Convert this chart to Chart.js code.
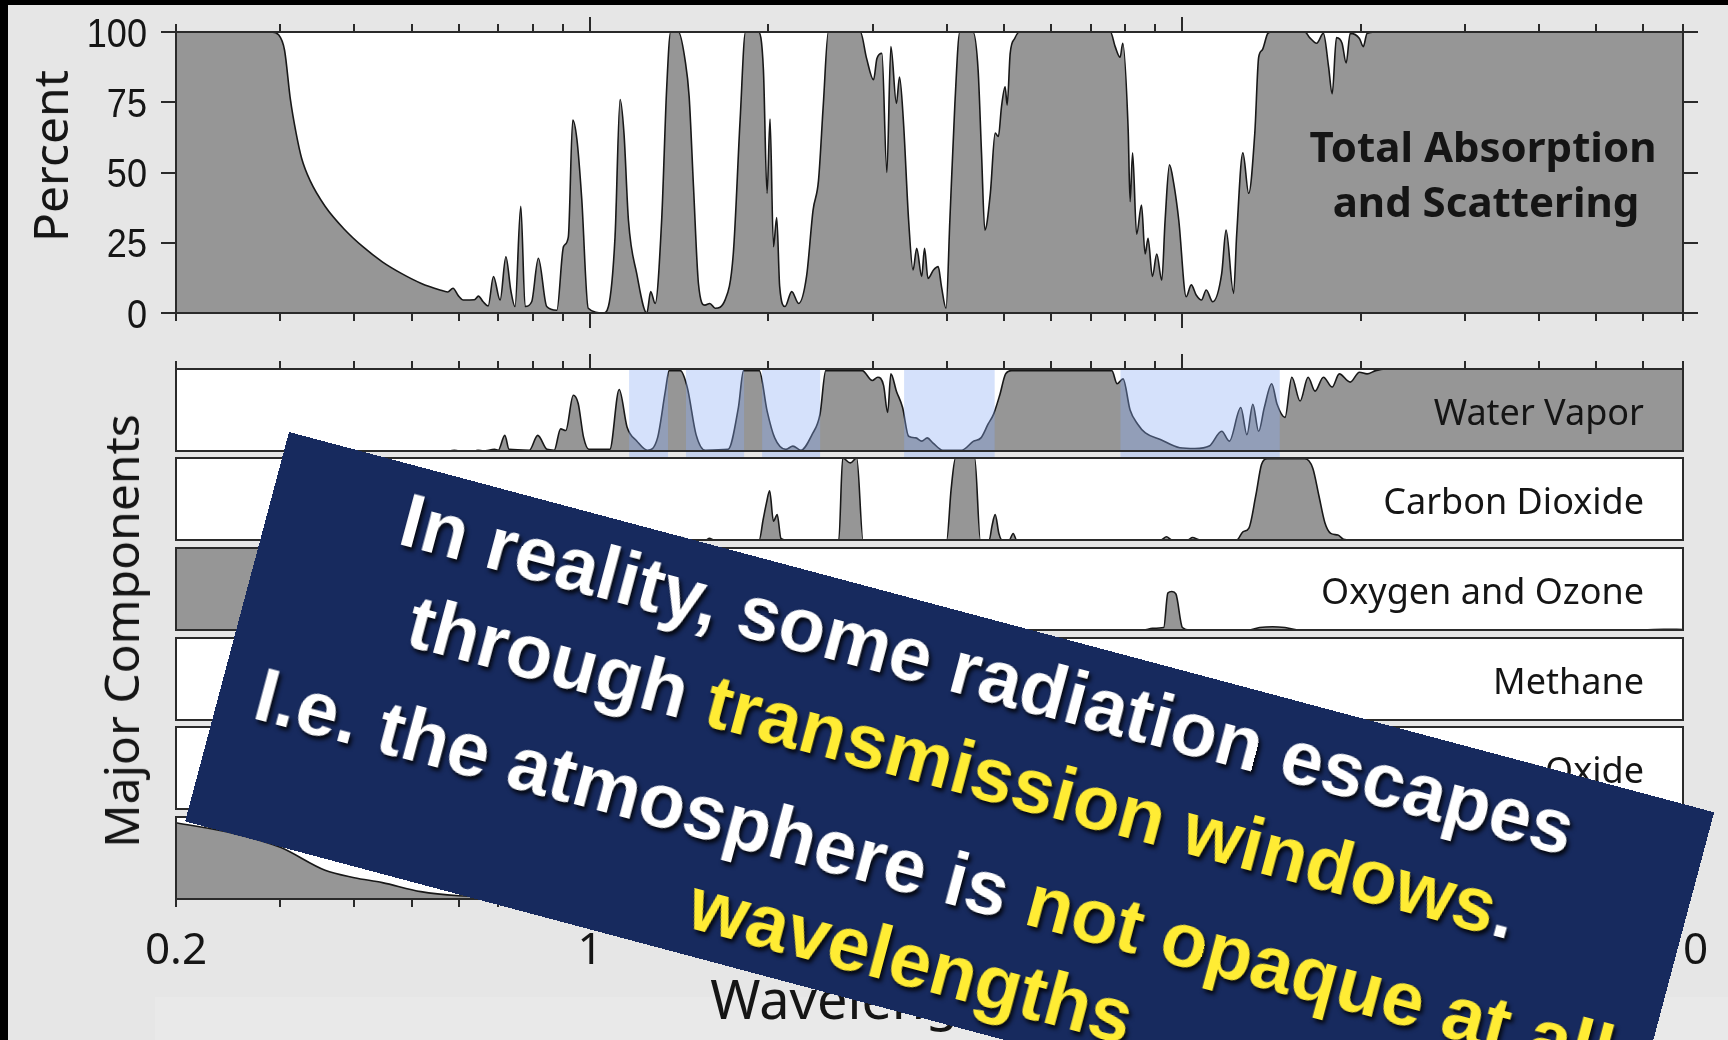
<!DOCTYPE html>
<html>
<head>
<meta charset="utf-8">
<title>Atmospheric absorption and scattering</title>
<script src="https://cdn.jsdelivr.net/npm/chart.js@4.4.1/dist/chart.umd.min.js"></script>
<style>
  html, body { margin: 0; padding: 0; width: 1728px; height: 1040px; overflow: hidden; background: #000; }
  #slide { position: absolute; left: 8px; top: 5px; width: 1720px; height: 1035px; background: #e6e6e6; }
  #band { position: absolute; left: 155px; top: 997px; width: 1573px; height: 43px; background: #e9e9e9; }
  canvas { position: absolute; left: 0; z-index: 1; }
  .lbl { position: absolute; white-space: nowrap; color: #151515; font-family: "Noto Sans", "Open Sans", sans-serif; line-height: 1; z-index: 2; }
  .rot { transform: translate(-50%, -50%) rotate(-90deg); }
  #note { position: absolute; left: 289px; top: 432px; width: 1475px; height: 403px; background: #172a5e;
          transform-origin: 0 0; transform: rotate(14.94deg); z-index: 10; }
  #note .ln { position: absolute; left: 0; width: 100%; text-align: center; white-space: nowrap;
              font: bold 76px "Liberation Sans", Arial, sans-serif; line-height: 96px; color: #fff;
              text-shadow: 3px 3px 4px rgba(0,0,0,0.85); }
  #note .y { color: #ffec34; }
</style>
</head>
<body>
<div id="slide"></div>
<div id="band"></div>

<!-- axis titles and panel labels -->
<div class="lbl rot" style="left:50px; top:156px; font-size:48px;">Percent</div>
<div class="lbl rot" style="left:121px; top:631px; font-size:48px;">Major Components</div>
<div class="lbl" style="left:1233px; width:500px; text-align:center; top:125px; font-size:42px; font-weight:bold;">Total Absorption</div>
<div class="lbl" style="left:1236px; width:500px; text-align:center; top:180px; font-size:42px; font-weight:bold;">and Scattering</div>
<div id="compLabels"></div>
<div class="lbl" style="left:676px; width:500px; text-align:center; top:971px; font-size:54px;">Wavelength (µm)</div>

<div id="note">
  <div class="ln" style="top:6px;">In reality, some radiation escapes</div>
  <div class="ln" style="top:102px;">through <span class="y">transmission windows</span>.</div>
  <div class="ln" style="top:212px;">I.e. the atmosphere is <span class="y">not opaque at all</span></div>
  <div class="ln" style="top:302px;"><span class="y">wavelengths</span></div>
</div>

<script>
// ---- axis ticks ----
const xTickValues = [0.2, 0.3, 0.4, 0.5, 0.6, 0.7, 0.8, 0.9, 1, 2, 3, 4, 5, 6, 7, 8, 9, 10, 20, 30, 40, 50, 60, 70];
const xMajorTicks = [1, 10];
const xLabelValues = [0.2, 1, 10, 70];
const xLabelText = ['0.2', '1', '10', '70'];
const yTickValues = [0, 25, 50, 75, 100];

// ---- total absorption and scattering (percent) ----
const totalWl = [0.2, 0.29, 0.298, 0.305, 0.312, 0.319, 0.326, 0.337, 0.357, 0.384, 0.414, 0.446, 0.481, 0.518, 0.558,
  0.575, 0.587, 0.6, 0.611, 0.638, 0.648, 0.66, 0.673, 0.687, 0.705, 0.721, 0.735, 0.747, 0.764, 0.777, 0.797, 0.818,
  0.845, 0.879, 0.902, 0.919, 0.935, 0.95, 0.968, 0.993, 1.053, 1.074, 1.102, 1.124, 1.141, 1.161, 1.199, 1.247,
  1.266, 1.288, 1.321, 1.347, 1.368, 1.41, 1.447, 1.47, 1.495, 1.524, 1.563, 1.593, 1.626, 1.69, 1.745, 1.792, 1.83,
  1.924, 1.962, 1.99, 2.013, 2.04, 2.066, 2.09, 2.134, 2.19, 2.25, 2.32, 2.38, 2.43, 2.477, 2.525, 2.86, 2.93, 3.01,
  3.05, 3.11, 3.17, 3.22, 3.29, 3.33, 3.38, 3.45, 3.51, 3.56, 3.63, 3.67, 3.72, 3.8, 3.87, 3.92, 3.99, 4.05, 4.13,
  4.21, 4.43, 4.52, 4.58, 4.64, 4.74, 4.83, 4.89, 4.95, 5.02, 5.06, 5.12, 5.21, 5.31, 7.56, 7.7, 7.85, 7.93, 8.1,
  8.16, 8.24, 8.37, 8.53, 8.65, 8.75, 8.9, 9.05, 9.23, 9.35, 9.51, 9.67, 9.86, 10.15, 10.35, 10.55, 10.77, 10.97,
  11.25, 11.65, 11.85, 12.2, 12.35, 12.65, 12.94, 13.25, 13.45, 13.64, 13.94, 14.15, 16.1, 16.4, 16.85, 17.3, 17.65,
  17.9, 18.2, 18.6, 18.9, 19.2, 19.9, 20.2, 20.5, 21.5, 70];
const totalPct = [100, 100, 99, 93.5, 76, 64, 55, 47, 38, 30, 23.5, 18.2, 14, 10.6, 8.2,
  7.5, 8.8, 6, 4.6, 4.7, 6, 4, 2.5, 13, 4.6, 20, 8, 2.3, 38, 2.3, 4, 19.5,
  2.3, 1, 23.6, 27, 68.7, 62, 41, 1.7, 0, 2.3, 27, 76, 64, 33, 14, 0,
  7.6, 3.4, 33, 80, 100, 100, 90, 77, 45, 10.5, 2.8, 3.4, 1.7, 4.6, 21, 68.7, 100,
  100, 86.5, 42.6, 69, 23.6, 34, 9.4, 2.3, 7.6, 3.4, 13, 36.7, 47, 74.6, 100, 100, 90.6, 83,
  90.6, 92.4, 50, 94.8, 74.6, 84, 68.7, 33, 15.3, 23, 13, 23, 12.3, 15.3, 16.5, 9.4, 1.7, 33, 74.6,
  100, 100, 86.5, 57, 29.5, 42.6, 64, 62.8, 73.4, 80.5, 74, 92.4, 97.7, 100, 100, 94.8, 91, 96, 65,
  39.6, 57, 28, 38.4, 21, 26.6, 13, 21, 11.7, 33, 52.7, 46, 33, 5.8, 10, 6.4, 4.6, 8.2,
  4, 14, 29.5, 7, 28, 57, 42.6, 64, 91, 93.6, 99.5, 100, 100, 98, 96, 99.5, 87.7,
  78, 98, 96, 89, 99.5, 97.7, 94.8, 99.5, 100, 100];

// ---- water vapor ----
const waterWl = [0.2, 0.58, 0.59, 0.6, 0.64, 0.647, 0.66, 0.69, 0.7, 0.718, 0.73, 0.79, 0.816, 0.846, 0.87, 0.892,
  0.91, 0.937, 0.955, 0.975, 0.996, 1.08, 1.12, 1.155, 1.2, 1.25, 1.3, 1.34, 1.36, 1.42, 1.46, 1.51, 1.565, 1.71,
  1.78, 1.816, 1.93, 1.99, 2.05, 2.14, 2.2, 2.27, 2.37, 2.445, 2.5, 2.88, 2.995, 3.06, 3.13, 3.18, 3.22, 3.29, 3.37,
  3.45, 3.55, 3.63, 3.71, 3.79, 3.94, 4.24, 4.44, 4.57, 4.7, 4.8, 4.92, 5.03, 5.15, 7.6, 7.76, 7.94, 8.16, 8.4,
  8.66, 9.18, 9.9, 10.5, 11.1, 11.65, 12.0, 12.55, 12.85, 13.15, 13.45, 13.75, 14.15, 14.45, 14.9, 15.3, 15.8,
  16.3, 16.75, 17.3, 17.9, 18.4, 19.2, 19.9, 20.5, 21.2, 22, 70];
const waterPct = [0, 0, 1, 0, 0, 1, 0, 2, 1, 19, 2, 1, 19, 2, 1, 27,
  25, 68, 58, 17, 2, 2, 75, 29, 12, 1, 16, 73, 98, 98, 77, 20, 1, 2,
  53, 98, 98, 49, 16, 2, 6, 1, 20, 45, 98, 98, 86, 90, 80, 47, 94, 73, 53,
  18, 16, 12, 16, 10, 1, 1, 12, 16, 33, 45, 69, 94, 98, 98, 82, 88, 50, 33,
  22, 14, 4, 3, 6, 24, 12, 53, 20, 57, 24, 53, 82, 57, 41, 90, 61,
  90, 73, 90, 78, 94, 84, 96, 94, 98, 100, 100];

// ---- carbon dioxide ----
const co2Wl = [0.2, 1.41, 1.43, 1.46, 1.57, 1.59, 1.62, 1.93, 1.96, 1.985, 2.01, 2.04, 2.07, 2.1, 2.14, 2.63, 2.67,
  2.75, 2.82, 2.89, 4.0, 4.07, 4.14, 4.46, 4.56, 4.72, 4.77, 4.83, 4.9, 4.96, 5.1, 5.18, 5.25, 9.2, 9.4, 9.6, 10.2,
  10.4, 10.7, 12.35, 12.65, 12.95, 13.3, 13.6, 13.9, 16.1, 16.6, 17.0, 17.4, 17.8, 18.3, 18.7, 19.2, 70];
const co2Pct = [0, 0, 3, 0, 0, 2, 0, 0, 25, 45, 60, 23, 31, 2, 0, 0, 100,
  94, 100, 0, 0, 62, 100, 100, 0, 0, 17, 31, 8, 0, 0, 8, 0, 0, 4, 0, 0,
  3, 0, 0, 10, 14.6, 54, 92, 99, 99, 87.5, 54, 21, 8, 6, 1, 0, 0];

// ---- oxygen and ozone ----
const oxyWl = [0.2, 0.29, 0.3, 0.31, 0.32, 0.33, 0.35, 0.45, 0.55, 0.6, 0.65, 0.68, 0.687, 0.695, 0.755, 0.762,
  0.77, 1.26, 1.27, 1.28, 4.6, 4.75, 4.9, 8.6, 8.9, 9.3, 9.45, 9.6, 9.75, 10.0, 10.3, 12.9, 13.5, 14.2, 14.9, 15.8,
  60, 65, 70];
const oxyPct = [100, 100, 90, 60, 25, 8, 2, 0.5, 2, 3, 2, 0.5, 10, 0.5, 0.5, 35,
  0.5, 0, 3, 0, 0, 3, 0, 0, 2, 3, 45, 47, 44, 3, 0, 0, 3, 4, 3, 0,
  0, 1, 0.5];

// ---- methane ----
const ch4Wl = [0.2, 1.64, 1.67, 1.7, 2.2, 2.3, 2.4, 3.2, 3.28, 3.31, 3.4, 3.5, 7.3, 7.5, 7.7, 7.9, 8.1, 70];
const ch4Pct = [0, 0, 8, 0, 0, 12, 3, 0, 30, 45, 20, 0, 0, 40, 70, 35, 0, 0];

// ---- nitrous oxide ----
const n2oWl = [0.2, 2.85, 2.9, 2.95, 3.85, 3.9, 4.0, 4.45, 4.5, 4.6, 4.7, 7.6, 7.8, 8.0, 16.5, 17.0, 17.5, 70];
const n2oPct = [0, 0, 5, 0, 0, 10, 0, 0, 80, 20, 0, 0, 40, 0, 0, 15, 0, 0];

// ---- Rayleigh scattering ----
const rayWl = [0.2, 0.25, 0.3, 0.357, 0.4, 0.446, 0.518, 0.6, 0.7, 0.8, 1.0, 1.5, 2.5, 70];
const rayPct = [93, 80, 63, 35, 26, 20, 9, 4, 2.5, 1.5, 0.8, 0.2, 0, 0];

// ---- transmission windows (µm) ----
const windowStart = [1.164, 1.452, 1.952, 3.39, 7.86];
const windowEnd = [1.354, 1.82, 2.446, 4.82, 14.6];

const componentNames = ['Water Vapor', 'Carbon Dioxide', 'Oxygen and Ozone', 'Methane', 'Nitrous Oxide', 'Rayleigh Scattering'];

// Frame, tick marks, tick labels and window shading, all placed through the chart scales
const deco = {
  id: 'deco',
  beforeDraw(chart) {
    const { ctx, chartArea: a } = chart;
    ctx.save();
    ctx.fillStyle = '#ffffff';
    ctx.fillRect(a.left, a.top, a.right - a.left, a.bottom - a.top);
    ctx.restore();
  },
  afterDatasetsDraw(chart, args, o) {
    const { ctx, chartArea: a } = chart;
    const x = chart.scales.x, y = chart.scales.y;
    ctx.save();
    if (o.windows) {
      ctx.fillStyle = 'rgba(138,172,243,0.36)';
      for (let i = 0; i < windowStart.length; i++) {
        const x0 = x.getPixelForValue(windowStart[i]);
        const x1 = x.getPixelForValue(windowEnd[i]);
        ctx.fillRect(x0, a.top - 1, x1 - x0, a.bottom - a.top + 10);
      }
    }
    ctx.strokeStyle = '#2a2a2a';
    ctx.lineWidth = 2;
    ctx.strokeRect(a.left, a.top, a.right - a.left, a.bottom - a.top);
    ctx.beginPath();
    for (const v of xTickValues) {
      const px = Math.round(x.getPixelForValue(v));
      const len = xMajorTicks.includes(v) ? 15 : 8;
      if (o.top) { ctx.moveTo(px, a.top); ctx.lineTo(px, a.top - len); }
      if (o.bottom) { ctx.moveTo(px, a.bottom); ctx.lineTo(px, a.bottom + len); }
    }
    if (o.yTicks) {
      for (const v of yTickValues) {
        const py = Math.round(y.getPixelForValue(v));
        ctx.moveTo(a.left, py); ctx.lineTo(a.left - 15, py);
        ctx.moveTo(a.right, py); ctx.lineTo(a.right + 15, py);
      }
    }
    ctx.stroke();
    ctx.fillStyle = '#151515';
    if (o.yLabels) {
      ctx.font = '41px "Liberation Sans", Arial, sans-serif';
      ctx.textAlign = 'right';
      ctx.textBaseline = 'alphabetic';
      for (const v of yTickValues) {
        const py = y.getPixelForValue(v);
        ctx.save();
        ctx.translate(a.left - 29, py + 14.7);
        ctx.scale(0.88, 1);
        ctx.fillText(String(v), 0, 0);
        ctx.restore();
      }
    }
    if (o.xLabels) {
      ctx.font = '44px "Noto Sans", "Open Sans", sans-serif';
      ctx.textAlign = 'center';
      ctx.textBaseline = 'alphabetic';
      xLabelValues.forEach((v, i) => {
        ctx.fillText(xLabelText[i], x.getPixelForValue(v), a.bottom + 49 + 15.7);
      });
    }
    ctx.restore();
  }
};

function makePanel(canvasTop, canvasHeight, padTop, padBottom, wl, pct, opts) {
  const cv = document.createElement('canvas');
  cv.width = 1728;
  cv.height = canvasHeight;
  cv.style.top = canvasTop + 'px';
  document.body.appendChild(cv);
  return new Chart(cv.getContext('2d'), {
    type: 'line',
    data: {
      datasets: [{
        data: wl.map((w, i) => ({ x: w, y: pct[i] })),
        borderColor: '#181818',
        borderWidth: 1.6,
        backgroundColor: '#969696',
        fill: 'origin',
        pointRadius: 0,
        cubicInterpolationMode: 'monotone'
      }]
    },
    options: {
      responsive: false,
      animation: false,
      devicePixelRatio: 1,
      events: [],
      layout: { padding: { left: 176, right: 45, top: padTop, bottom: padBottom } },
      scales: {
        x: { type: 'logarithmic', min: 0.2, max: 70, display: false },
        y: { type: 'linear', min: 0, max: 100, display: false }
      },
      plugins: { legend: { display: false }, tooltip: { enabled: false }, deco: opts }
    },
    plugins: [deco]
  });
}

// Top panel: total absorption and scattering
makePanel(0, 345, 32, 32, totalWl, totalPct, { top: true, bottom: true, yTicks: true, yLabels: true });

// Component strips
const comps = [
  [waterWl, waterPct], [co2Wl, co2Pct], [oxyWl, oxyPct],
  [ch4Wl, ch4Pct], [n2oWl, n2oPct], [rayWl, rayPct]
];
const stripTop = [369, 458, 548, 638, 727, 817];
const stripH = 82;
const labelBox = document.getElementById('compLabels');
comps.forEach((c, i) => {
  const last = i === comps.length - 1;
  const cTop = stripTop[i] - 24;
  const cH = last ? 1040 - cTop : stripH + 48;
  makePanel(cTop, cH, 24, cH - 24 - stripH, c[0], c[1], {
    top: i === 0, bottom: last, windows: i === 0, xLabels: last
  });
  if (!last) {
    const d = document.createElement('div');
    d.className = 'lbl';
    d.style.fontSize = '36px';
    d.style.right = (1728 - 1644) + 'px';
    d.style.top = (stripTop[i] + stripH / 2 + 3.5 - 0.531 * 36) + 'px';
    d.textContent = componentNames[i];
    labelBox.appendChild(d);
  }
});
</script>
</body>
</html>
